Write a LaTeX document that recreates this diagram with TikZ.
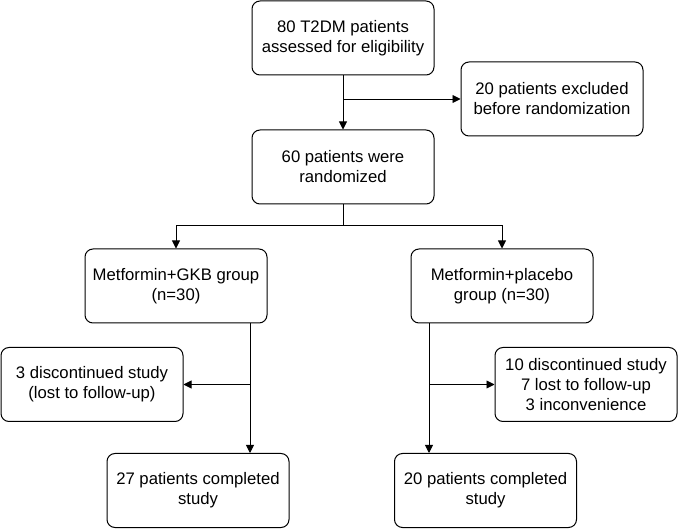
\documentclass[tikz,border=0pt]{standalone}
\usepackage{fontspec}
\setmainfont{Liberation Sans}
\usetikzlibrary{arrows.meta}
\begin{document}
\begin{tikzpicture}[x=1pt,y=-1pt,
  box/.style={draw, line width=1pt, rounded corners=8pt, minimum width=182pt, minimum height=74pt, align=center, inner sep=2pt, font=\fontsize{16.7}{20}\selectfont},
  conn/.style={line width=0.9pt},
  arr/.style={conn, -{Triangle[width=8pt,length=8pt]}}]
\useasboundingbox (0,0) rectangle (678,529);
\node[box] (A) at (343,38) {80 T2DM patients\\assessed for eligibility};
\node[box] (B) at (552,99) {20 patients excluded\\before randomization};
\node[box] (C) at (343,167) {60 patients were\\randomized};
\node[box] (D) at (176,286) {Metformin+GKB group\\(n=30)};
\node[box] (E) at (502,286) {Metformin+placebo\\group (n=30)};
\node[box] (G) at (92,384.5) {3 discontinued study\\(lost to follow-up)};
\node[box] (I) at (586,384.5) {10 discontinued study\\7 lost to follow-up\\3 inconvenience};
\node[box] (F) at (198,490.5) {27 patients completed\\study};
\node[box] (H) at (485.5,490.5) {20 patients completed\\study};
\coordinate (ab) at (343,99);
\coordinate (split) at (343,225);
\coordinate (xl) at (250,384.5);
\coordinate (xr) at (429,384.5);
\draw[arr] (A) -- (C);
\draw[arr] (ab) -- (ab -| B.west);
\draw[conn] (C) -- (split);
\draw[arr] (split) -| (D);
\draw[arr] (split) -| (E);
\draw[arr] (D.south -| xl) -- (F.north -| xl);
\draw[arr] (xl) -- (xl -| G.east);
\draw[arr] (E.south -| xr) -- (H.north -| xr);
\draw[arr] (xr) -- (xr -| I.west);
\end{tikzpicture}
\end{document}
